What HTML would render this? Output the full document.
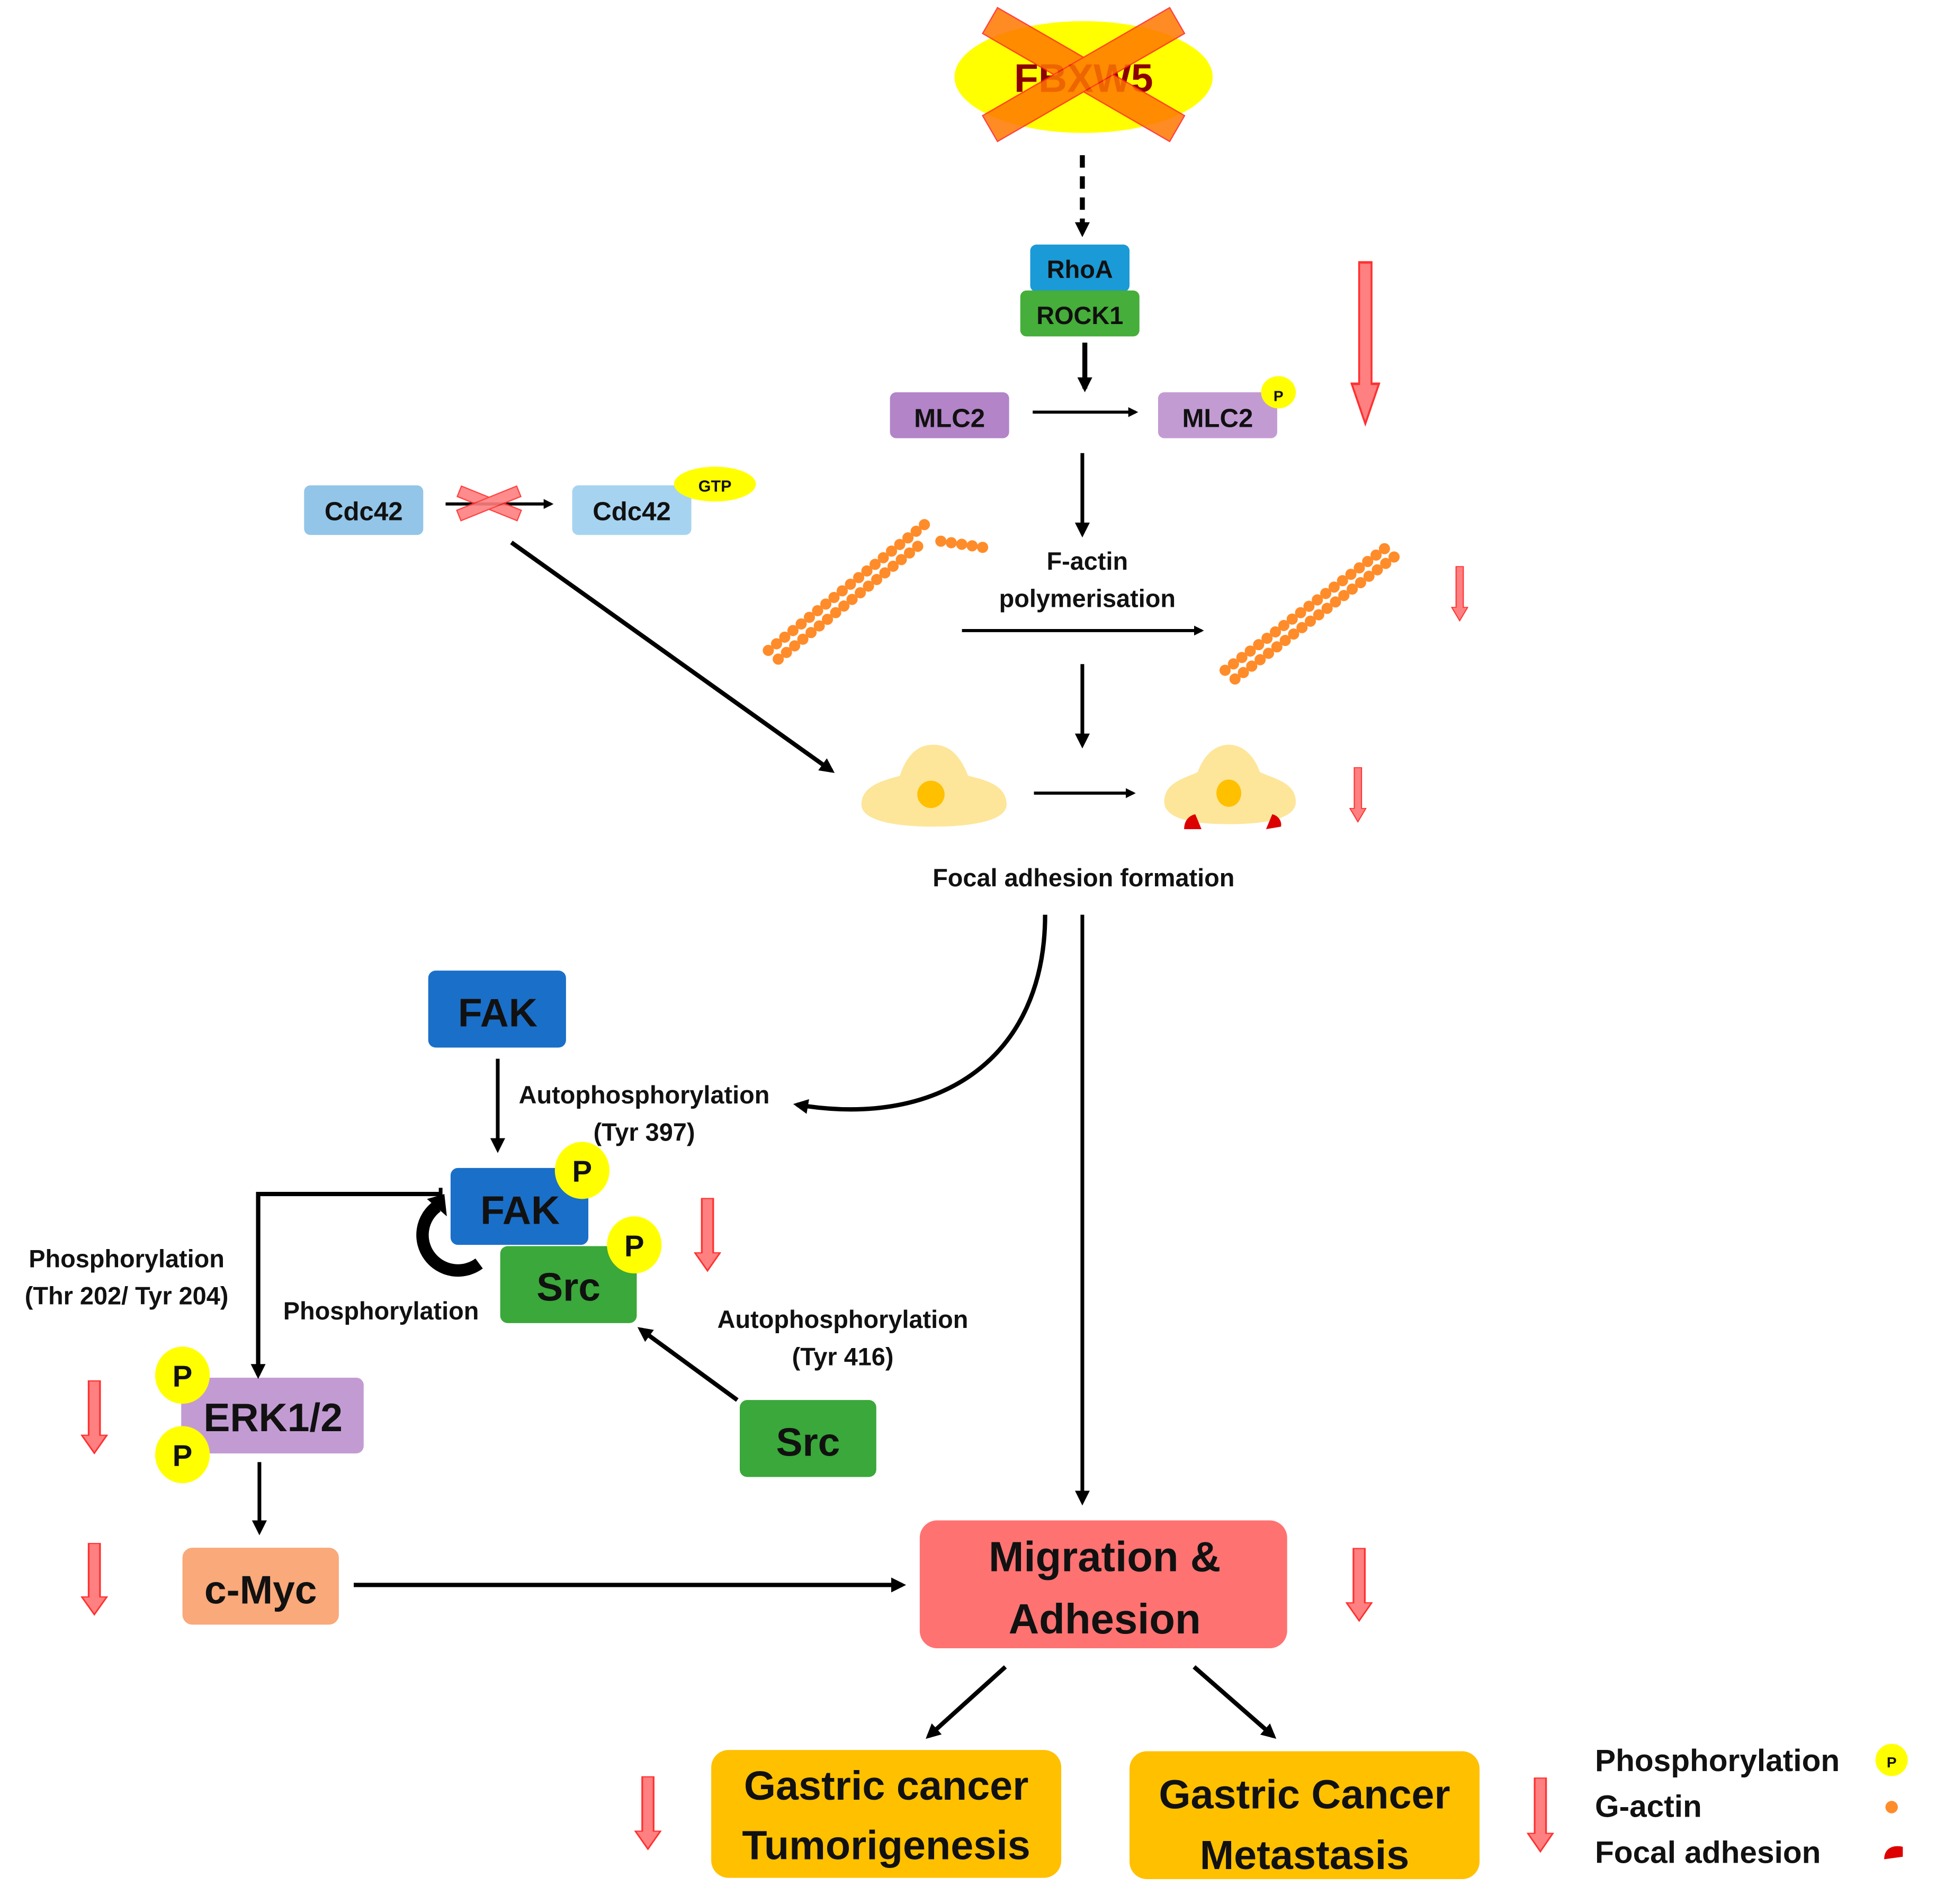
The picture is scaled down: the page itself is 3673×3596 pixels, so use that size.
<!DOCTYPE html>
<html><head><meta charset="utf-8"><style>
html,body{margin:0;padding:0;background:#fff;}
svg{display:block;}
text{font-family:"Liberation Sans",sans-serif;font-weight:bold;fill:#111;}
</style></head><body>
<svg width="3673" height="3596" viewBox="0 0 1567 1534" xmlns="http://www.w3.org/2000/svg">
<defs>
<marker id="ah" markerWidth="8" markerHeight="8" refX="6" refY="4" orient="auto" markerUnits="userSpaceOnUse" viewBox="0 0 8 8"><path d="M0,0 L8,4 L0,8 Z" fill="#000"/></marker>
<marker id="ahm" markerWidth="12" markerHeight="12" refX="9" refY="6" orient="auto" markerUnits="userSpaceOnUse" viewBox="0 0 12 12"><path d="M0,0 L12,6 L0,12 Z" fill="#000"/></marker>
<symbol id="ra" viewBox="0 0 24 100" preserveAspectRatio="none"><path d="M7,1 H17 V74 H23 L12,98 L1,74 H7 Z" fill="#ff8080" stroke="#ff3030" stroke-width="1.5"/></symbol>
</defs>

<!-- FBXW5 -->
<ellipse cx="873" cy="62" rx="104" ry="45" fill="#ffff00"/>
<text x="873" y="74" font-size="32" text-anchor="middle" style="fill:#8b0000">FBXW5</text>
<g opacity="0.85" fill="#ff7700" stroke="#ff2020" stroke-width="1">
<rect x="786" y="48" width="174" height="24" transform="rotate(30 873 60)"/>
<rect x="786" y="48" width="174" height="24" transform="rotate(-30 873 60)"/>
</g>

<line x1="872" y1="125" x2="872" y2="188" stroke="#000" stroke-width="4" stroke-dasharray="10 7" marker-end="url(#ahm)"/>

<rect x="830" y="197" width="80" height="38" rx="5" fill="#1a9ad6"/>
<text x="870" y="224" font-size="20" text-anchor="middle">RhoA</text>
<rect x="822" y="234" width="96" height="37" rx="5" fill="#46ae3a"/>
<text x="870" y="261" font-size="20" text-anchor="middle">ROCK1</text>
<line x1="874" y1="276" x2="874" y2="313" stroke="#000" stroke-width="4" marker-end="url(#ahm)"/>

<rect x="717" y="316" width="96" height="37" rx="5" fill="#b384c8"/>
<text x="765" y="344" font-size="21" text-anchor="middle">MLC2</text>
<line x1="832" y1="332" x2="915" y2="332" stroke="#000" stroke-width="2.5" marker-end="url(#ah)"/>
<rect x="933" y="316" width="96" height="37" rx="5" fill="#c39bd3"/>
<text x="981" y="344" font-size="21" text-anchor="middle">MLC2</text>
<ellipse cx="1030" cy="316" rx="14" ry="13" fill="#ffff00"/>
<text x="1030" y="323" font-size="12" text-anchor="middle">P</text>
<use href="#ra" x="1088" y="210" width="24" height="134"/>

<line x1="872" y1="365" x2="872" y2="430" stroke="#000" stroke-width="3" marker-end="url(#ahm)"/>

<!-- Cdc42 -->
<rect x="245" y="391" width="96" height="40" rx="5" fill="#92c5e8"/>
<text x="293" y="419" font-size="21" text-anchor="middle">Cdc42</text>
<line x1="359" y1="406" x2="444" y2="406" stroke="#000" stroke-width="2.5" marker-end="url(#ah)"/>
<g fill="#ff8080" stroke="#ff3030" stroke-width="1" opacity="0.9">
<rect x="368" y="401" width="52" height="9" transform="rotate(22 394 406)"/>
<rect x="368" y="401" width="52" height="9" transform="rotate(-22 394 406)"/>
</g>
<rect x="461" y="391" width="96" height="40" rx="5" fill="#a6d3f0"/>
<text x="509" y="419" font-size="21" text-anchor="middle">Cdc42</text>
<ellipse cx="576" cy="390" rx="33" ry="14" fill="#ffff00"/>
<text x="576" y="396" font-size="13" text-anchor="middle">GTP</text>

<!-- actin filaments -->
<g stroke="#ff8c2a" stroke-width="9" stroke-linecap="round" stroke-dasharray="0 8.5" fill="none">
<line x1="619" y1="524" x2="748" y2="420"/>
<line x1="627" y1="531" x2="742" y2="438"/>
<line x1="758" y1="436" x2="792" y2="441"/>
<line x1="987" y1="540" x2="1122" y2="437"/>
<line x1="995" y1="547" x2="1128" y2="445"/>
</g>
<text x="876" y="459" font-size="20" text-anchor="middle">F-actin</text>
<text x="876" y="489" font-size="20" text-anchor="middle">polymerisation</text>
<line x1="775" y1="508" x2="968" y2="508" stroke="#000" stroke-width="2.5" marker-end="url(#ah)"/>
<use href="#ra" x="1169" y="456" width="14" height="45"/>
<line x1="872" y1="535" x2="872" y2="600" stroke="#000" stroke-width="3" marker-end="url(#ahm)"/>
<line x1="412" y1="437" x2="670" y2="621" stroke="#000" stroke-width="3.5" marker-end="url(#ahm)"/>

<!-- cells -->
<path d="M694,648 C694,632 715,628 725,625 C730,610 738,600 752,600 C766,600 774,610 780,625 C792,628 811,632 811,648 C811,662 780,666 752,666 C724,666 694,662 694,648 Z" fill="#fde69a"/>
<ellipse cx="750" cy="640" rx="11" ry="11" fill="#ffc000"/>
<line x1="833" y1="639" x2="913" y2="639" stroke="#000" stroke-width="2.5" marker-end="url(#ah)"/>
<path d="M938,646 C938,630 955,627 965,622 C969,610 978,600 990,600 C1002,600 1011,610 1015,622 C1025,627 1044,630 1044,646 C1044,660 1018,664 990,664 C962,664 938,660 938,646 Z" fill="#fde69a"/>
<ellipse cx="990" cy="639" rx="10" ry="11" fill="#ffc000"/>
<path d="M954,668 C954,661 958,657 963,656 L968,668 Z" fill="#dd0000"/>
<path d="M1020,668 L1025,656 C1030,657 1033,662 1032,666 Z" fill="#dd0000"/>
<use href="#ra" x="1087" y="618" width="14" height="45"/>
<text x="873" y="714" font-size="20" text-anchor="middle">Focal adhesion formation</text>

<path d="M842,737 C842,850 760,910 642,890" fill="none" stroke="#000" stroke-width="3.5" marker-end="url(#ahm)"/>
<line x1="872" y1="737" x2="872" y2="1210" stroke="#000" stroke-width="3" marker-end="url(#ahm)"/>

<!-- FAK -->
<rect x="345" y="782" width="111" height="62" rx="6" fill="#1a6fc9"/>
<text x="401" y="827" font-size="32" text-anchor="middle">FAK</text>
<line x1="401" y1="853" x2="401" y2="926" stroke="#000" stroke-width="3" marker-end="url(#ahm)"/>
<text x="519" y="889" font-size="20" text-anchor="middle">Autophosphorylation</text>
<text x="519" y="919" font-size="20" text-anchor="middle">(Tyr 397)</text>

<path d="M386,1018 A28,28 0 1 1 352,972" fill="none" stroke="#000" stroke-width="10"/>
<path d="M344,966 L360,980 L358,962 Z" fill="#000"/>

<rect x="363" y="941" width="111" height="62" rx="6" fill="#1a6fc9"/>
<text x="419" y="986" font-size="32" text-anchor="middle">FAK</text>
<ellipse cx="469" cy="943" rx="22" ry="23" fill="#ffff00"/>
<text x="469" y="952" font-size="24" text-anchor="middle">P</text>
<rect x="403" y="1004" width="110" height="62" rx="6" fill="#3aa83a"/>
<text x="458" y="1048" font-size="32" text-anchor="middle">Src</text>
<ellipse cx="511" cy="1003" rx="22" ry="23" fill="#ffff00"/>
<text x="511" y="1012" font-size="24" text-anchor="middle">P</text>
<use href="#ra" x="559" y="965" width="22" height="60"/>

<text x="102" y="1021" font-size="20" text-anchor="middle">Phosphorylation</text>
<text x="102" y="1051" font-size="20" text-anchor="middle">(Thr 202/ Tyr 204)</text>
<text x="307" y="1063" font-size="20" text-anchor="middle">Phosphorylation</text>
<text x="679" y="1070" font-size="20" text-anchor="middle">Autophosphorylation</text>
<text x="679" y="1100" font-size="20" text-anchor="middle">(Tyr 416)</text>

<rect x="596" y="1128" width="110" height="62" rx="6" fill="#3aa83a"/>
<text x="651" y="1173" font-size="32" text-anchor="middle">Src</text>
<line x1="594" y1="1128" x2="516" y2="1071" stroke="#000" stroke-width="3.5" marker-end="url(#ahm)"/>

<!-- ERK -->
<rect x="146" y="1110" width="147" height="61" rx="6" fill="#c39bd3"/>
<text x="220" y="1153" font-size="32" text-anchor="middle">ERK1/2</text>
<path d="M356,962 H208 V1108" fill="none" stroke="#000" stroke-width="3.5" marker-end="url(#ahm)"/>
<line x1="355" y1="957" x2="355" y2="967" stroke="#000" stroke-width="3"/>
<ellipse cx="147" cy="1108" rx="22" ry="23" fill="#ffff00"/>
<text x="147" y="1117" font-size="24" text-anchor="middle">P</text>
<ellipse cx="147" cy="1172" rx="22" ry="23" fill="#ffff00"/>
<text x="147" y="1181" font-size="24" text-anchor="middle">P</text>
<use href="#ra" x="65" y="1112" width="22" height="60"/>
<line x1="209" y1="1178" x2="209" y2="1234" stroke="#000" stroke-width="3" marker-end="url(#ahm)"/>

<rect x="147" y="1247" width="126" height="62" rx="8" fill="#f9a97a"/>
<text x="210" y="1292" font-size="32" text-anchor="middle">c-Myc</text>
<use href="#ra" x="65" y="1243" width="22" height="59"/>
<line x1="285" y1="1277" x2="727" y2="1277" stroke="#000" stroke-width="3.5" marker-end="url(#ahm)"/>

<rect x="741" y="1225" width="296" height="103" rx="14" fill="#ff7272"/>
<text x="890" y="1266" font-size="34" text-anchor="middle">Migration &amp;</text>
<text x="890" y="1316" font-size="34" text-anchor="middle">Adhesion</text>
<use href="#ra" x="1084" y="1247" width="22" height="60"/>
<line x1="810" y1="1343" x2="748" y2="1399" stroke="#000" stroke-width="3.5" marker-end="url(#ahm)"/>
<line x1="962" y1="1343" x2="1026" y2="1399" stroke="#000" stroke-width="3.5" marker-end="url(#ahm)"/>

<rect x="573" y="1410" width="282" height="103" rx="14" fill="#ffc000"/>
<text x="714" y="1450" font-size="33" text-anchor="middle">Gastric cancer</text>
<text x="714" y="1498" font-size="33" text-anchor="middle">Tumorigenesis</text>
<rect x="910" y="1411" width="282" height="103" rx="14" fill="#ffc000"/>
<text x="1051" y="1457" font-size="33" text-anchor="middle">Gastric Cancer</text>
<text x="1051" y="1506" font-size="33" text-anchor="middle">Metastasis</text>
<use href="#ra" x="511" y="1431" width="22" height="60"/>
<use href="#ra" x="1230" y="1432" width="22" height="61"/>

<!-- legend -->
<text x="1285" y="1427" font-size="25">Phosphorylation</text>
<text x="1285" y="1464" font-size="25">G-actin</text>
<text x="1285" y="1501" font-size="25">Focal adhesion</text>
<circle cx="1524" cy="1418" r="13" fill="#ffff00"/>
<text x="1524" y="1424" font-size="12" text-anchor="middle">P</text>
<circle cx="1524" cy="1456" r="5" fill="#ff8c2a"/>
<path d="M1518,1498 C1518,1490 1524,1486 1533,1488 L1533,1496 Z" fill="#dd0000"/>
</svg>
</body></html>
